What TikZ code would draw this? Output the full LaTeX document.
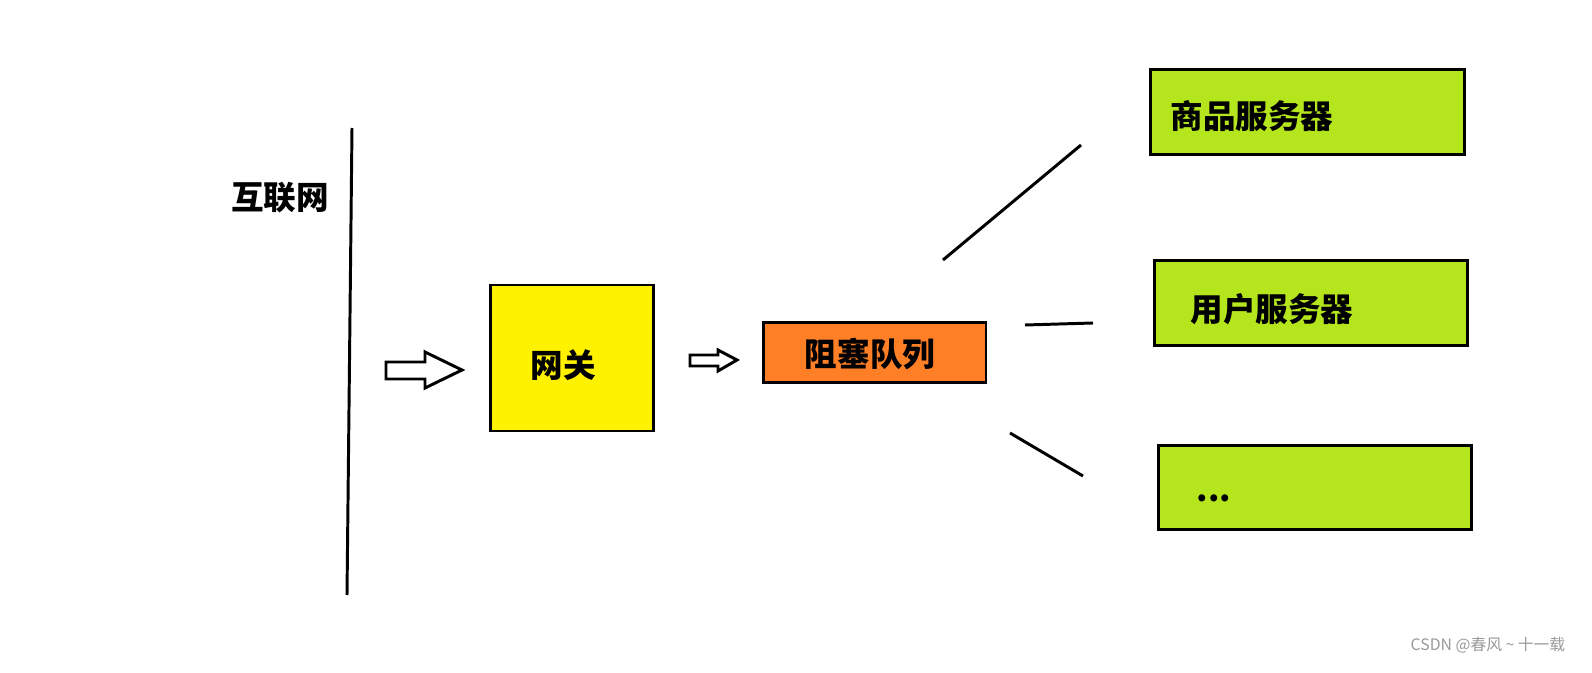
\documentclass[tikz,border=0pt]{standalone}
\usepackage{fontspec}
\setmainfont{Noto Sans CJK SC}
\definecolor{gateyellow}{RGB}{255,242,0}
\definecolor{queueorange}{RGB}{255,127,39}
\definecolor{servgreen}{RGB}{181,230,29}
\tikzset{every picture/.style={line width=3pt}}
\tikzset{
  box/.style={draw, line width=3pt, inner sep=0pt},
  lbl/.style={font=\fontsize{33}{33}\selectfont\bfseries},
  hollow/.style={draw, line width=3pt, fill=white, line join=miter}
}

\begin{document}
\begin{tikzpicture}[x=1.0137pt,y=1.0137pt,yscale=-1,xscale=1]
\useasboundingbox (0,0) rectangle (1592,673);

%Straight Lines
\draw (352,128) -- (347,595) ;
% Text Node
\node [lbl] (net) at (280,198) {互联网};

%Shape: boxes
\node [box, fill=gateyellow, minimum width=166pt, minimum height=148pt] (gate) at (572,358) {};
\node [lbl] at (563,365) {网关};
\node [box, fill=queueorange, minimum width=226pt, minimum height=60pt] (queue) at (874.5,352.5) {};
\node [lbl] at (870,354) {阻塞队列};
\node [box, fill=servgreen, minimum width=319pt, minimum height=87pt] (goods) at (1307.5,112) {};
\node [lbl, anchor=west] at (1166,116) {商品服务器};
\node [box, fill=servgreen, minimum width=318pt, minimum height=87pt] (user) at (1311,303) {};
\node [lbl, anchor=west] at (1186,309) {用户服务器};
\node [box, fill=servgreen, minimum width=318pt, minimum height=86pt] (more) at (1315,487.5) {};
\node [lbl, anchor=west] at (1192,498) {...};

%Shape: hollow arrows
\draw [hollow] (386,362) -- (425,362) -- (425,352) -- (462,370) -- (425,388) -- (425,379) -- (386,379) -- cycle ;
\draw [hollow] (690,355) -- (718,355) -- (718,350) -- (737,360) -- (718,371) -- (718,366) -- (690,366) -- cycle ;

%Straight Lines
\coordinate (q1) at (943,260); \coordinate (g1) at (1081,145);
\coordinate (q2) at (1025,325); \coordinate (u2) at (1093,323);
\coordinate (q3) at (1010,433); \coordinate (m3) at (1083,476);
\draw (q1) -- (g1) ;
\draw (q2) -- (u2) ;
\draw (q3) -- (m3) ;

% Text Node
\node [text=gray!80, font=\fontsize{16}{16}\selectfont] (mark) at (1488,645) {CSDN @春风 \textasciitilde{} 十一载};

\end{tikzpicture}
\end{document}
